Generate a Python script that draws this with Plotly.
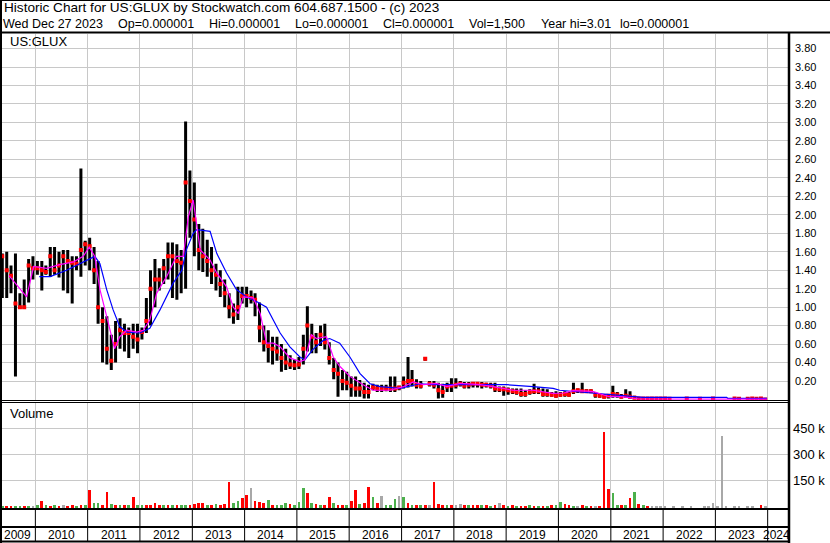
import plotly.graph_objects as go

W, H = 830, 543

# ---------------- data ----------------
# monthly bars from 2009-05 to 2023-12
months = [f"{y}-{m:02d}-15" for y in range(2009, 2024) for m in range(1, 13) if (y, m) >= (2009, 5)]

high = [
    # 2009 May-Dec
    1.58, 1.60, 1.45, 1.58, 1.15, 1.30, 1.52, 1.55,
    # 2010
    1.50, 1.50, 1.45, 1.65, 1.65, 1.60, 1.62, 1.62, 1.55, 1.55, 2.50, 1.72,
    # 2011
    1.75, 1.65, 1.50, 1.00, 0.90, 0.70, 0.85, 0.88, 0.82, 0.78, 0.82, 0.82,
    # 2012
    0.78, 1.10, 1.40, 1.52, 1.42, 1.52, 1.70, 1.70, 1.68, 1.62, 3.01, 2.48,
    # 2013
    2.35, 1.90, 1.85, 1.73, 1.65, 1.47, 1.40, 1.30, 1.15, 1.04, 1.22, 1.22,
    # 2014
    1.22, 1.18, 1.15, 1.05, 0.80, 0.75, 0.68, 0.68, 0.60, 0.55, 0.48, 0.43,
    # 2015
    0.46, 0.70, 1.01, 0.82, 0.72, 0.80, 0.82, 0.62, 0.45, 0.40, 0.32, 0.30,
    # 2016
    0.25, 0.25, 0.21, 0.18, 0.16, 0.17, 0.16, 0.16, 0.16, 0.25, 0.25, 0.15,
    # 2017
    0.25, 0.46, 0.32, 0.22, 0.20, 0.46, 0.20, 0.20, 0.18, 0.17, 0.18, 0.23,
    # 2018
    0.23, 0.20, 0.19, 0.19, 0.19, 0.19, 0.19, 0.18, 0.18, 0.18, 0.14, 0.14,
    # 2019
    0.13, 0.12, 0.12, 0.12, 0.10, 0.11, 0.17, 0.13, 0.12, 0.11, 0.08, 0.09,
    # 2020
    0.08, 0.09, 0.08, 0.18, 0.12, 0.18, 0.11, 0.11, 0.08, 0.07, 0.06, 0.06,
    # 2021
    0.15, 0.08, 0.06, 0.11, 0.09, 0.04, 0.02, 0.02, 0.015, 0.015, 0.015, 0.015,
    # 2022
    0.015, 0.012, None, None, None, 0.015, None, None, 0.012, None, None, 0.02,
    # 2023
    None, None, None, None, 0.015, 0.012, None, 0.012, 0.015, 0.012, 0.015, 0.012,
]
low = [
    1.10, 1.10, 1.15, 0.25, 0.98, 0.98, 1.05, 1.30,
    1.35, 1.18, 1.35, 1.33, 1.35, 1.32, 1.18, 1.15, 1.04, 1.40, 1.33, 1.45,
    1.40, 1.25, 0.82, 0.40, 0.38, 0.32, 0.40, 0.55, 0.52, 0.45, 0.55, 0.50,
    0.65, 0.72, 0.80, 1.00, 1.18, 1.25, 1.30, 1.10, 1.08, 1.15, 1.20, 1.75,
    1.55, 1.40, 1.38, 1.33, 1.25, 1.18, 1.11, 1.00, 0.88, 0.82, 0.86, 1.04,
    1.00, 1.04, 0.90, 0.62, 0.52, 0.40, 0.38, 0.42, 0.30, 0.32, 0.33, 0.32,
    0.33, 0.38, 0.52, 0.50, 0.50, 0.58, 0.54, 0.38, 0.22, 0.03, 0.10, 0.10,
    0.03, 0.03, 0.03, 0.01, 0.01, 0.10, 0.08, 0.08, 0.09, 0.08, 0.08, 0.10,
    0.12, 0.13, 0.14, 0.12, 0.12, 0.42, 0.14, 0.12, 0.01, 0.02, 0.08, 0.08,
    0.12, 0.14, 0.12, 0.12, 0.13, 0.13, 0.12, 0.13, 0.12, 0.08, 0.08, 0.04,
    0.05, 0.06, 0.05, 0.03, 0.03, 0.05, 0.06, 0.06, 0.03, 0.03, 0.03, 0.02,
    0.03, 0.03, 0.03, 0.06, 0.07, 0.07, 0.07, 0.07, 0.02, 0.02, 0.01, 0.01,
    0.02, 0.02, 0.01, 0.02, 0.01, 0.005, 0.005, 0.005, 0.005, 0.005, 0.005, 0.005,
    0.005, 0.005, None, None, None, 0.005, None, None, 0.005, None, None, 0.005,
    None, None, None, None, 0.005, 0.005, None, 0.005, 0.005, 0.005, 0.005, 0.000001,
]
close = [
    1.55, 1.40, 1.34, 1.04, 1.00, 1.00, 1.45, 1.42,
    1.42, 1.40, 1.38, 1.55, 1.40, 1.45, 1.55, 1.50, 1.48, 1.47, 1.62, 1.68,
    1.66, 1.40, 1.00, 0.85, 0.55, 0.42, 0.60, 0.75, 0.72, 0.72, 0.68, 0.65,
    0.73, 0.85, 1.20, 1.30, 1.30, 1.42, 1.55, 1.55, 1.50, 1.48, 2.35, 2.15,
    1.95, 1.62, 1.55, 1.50, 1.40, 1.35, 1.25, 1.15, 1.00, 0.92, 1.00, 1.12,
    1.12, 1.10, 1.08, 0.78, 0.62, 0.58, 0.55, 0.52, 0.45, 0.40, 0.38, 0.37,
    0.38, 0.55, 0.80, 0.68, 0.62, 0.70, 0.62, 0.45, 0.32, 0.28, 0.20, 0.18,
    0.15, 0.12, 0.12, 0.08, 0.08, 0.13, 0.12, 0.12, 0.12, 0.12, 0.12, 0.13,
    0.18, 0.20, 0.20, 0.16, 0.15, 0.44, 0.17, 0.16, 0.10, 0.08, 0.14, 0.15,
    0.16, 0.17, 0.15, 0.16, 0.17, 0.17, 0.16, 0.16, 0.15, 0.12, 0.11, 0.11,
    0.10, 0.09, 0.08, 0.06, 0.06, 0.08, 0.09, 0.09, 0.06, 0.06, 0.05, 0.04,
    0.05, 0.06, 0.05, 0.09, 0.10, 0.09, 0.09, 0.09, 0.05, 0.04, 0.03, 0.04,
    0.06, 0.05, 0.03, 0.04, 0.03, 0.02, 0.01, 0.01, 0.01, 0.01, 0.01, 0.01,
    0.01, 0.008, None, None, None, 0.01, None, None, 0.008, None, None, 0.012,
    None, None, None, None, 0.01, 0.008, None, 0.008, 0.01, 0.008, 0.01, 0.000001,
]

# moving averages
ma_short_dates = [
    "2009-07-01", "2009-11-01", "2009-12-20", "2010-03-20", "2010-06-20", "2010-09-25",
    "2010-12-01", "2011-01-12", "2011-02-20", "2011-03-28", "2011-05-14", "2011-07-08",
    "2011-08-13", "2011-10-01", "2011-12-10", "2012-01-24", "2012-03-10", "2012-04-27",
    "2012-07-05", "2012-09-12", "2012-10-30", "2012-12-04", "2013-01-07", "2013-02-01",
    "2013-02-25", "2013-05-05", "2013-06-21", "2013-08-28", "2013-10-14", "2013-11-18",
    "2013-12-22", "2014-03-03", "2014-04-20", "2014-06-03", "2014-07-20", "2014-09-06",
    "2014-11-13", "2015-01-22", "2015-02-26", "2015-04-12", "2015-05-18", "2015-07-26",
    "2015-09-12", "2015-10-27", "2016-01-06", "2016-04-08", "2016-06-16", "2016-10-12",
    "2017-01-14", "2017-03-25", "2017-06-02", "2017-09-02", "2017-11-12", "2018-02-14",
    "2018-07-01", "2018-10-03", "2019-02-20", "2019-07-08", "2019-11-25", "2020-02-10",
    "2020-04-14", "2020-07-15", "2020-09-02", "2020-12-20", "2021-03-15", "2021-07-15",
    "2023-12-27",
]
ma_short = [
    1.34, 1.11, 1.44, 1.42, 1.46, 1.49,
    1.55, 1.65, 1.55, 1.19, 0.90, 0.55,
    0.68, 0.75, 0.73, 0.75, 0.86, 1.15,
    1.33, 1.55, 1.55, 1.98, 2.16, 1.91,
    1.62, 1.51, 1.37, 1.22, 1.00, 0.93,
    1.11, 1.10, 0.93, 0.61, 0.61, 0.57,
    0.45, 0.41, 0.43, 0.70, 0.66, 0.68,
    0.46, 0.36, 0.25, 0.16, 0.10, 0.10,
    0.14, 0.19, 0.16, 0.175, 0.14, 0.175,
    0.16, 0.14, 0.10, 0.10, 0.067, 0.07,
    0.095, 0.09, 0.085, 0.03, 0.03, 0.005,
    0.003,
]
ma_long_dates = [
    "2010-01-28", "2010-04-15", "2010-08-07", "2010-12-01", "2011-02-20", "2011-03-28",
    "2011-05-14", "2011-06-28", "2011-08-13", "2011-10-01", "2012-01-01", "2012-03-10",
    "2012-05-20", "2012-08-20", "2012-10-20", "2012-11-20", "2013-01-07", "2013-02-01",
    "2013-05-05", "2013-06-21", "2013-08-28", "2013-11-05", "2014-01-15", "2014-03-25",
    "2014-06-03", "2014-07-20", "2014-09-06", "2014-11-13", "2015-01-22", "2015-02-26",
    "2015-04-22", "2015-07-05", "2015-08-18", "2015-10-27", "2016-01-06", "2016-03-17",
    "2016-05-26", "2016-08-04", "2016-12-20", "2017-05-08", "2017-08-11", "2017-12-28",
    "2018-07-01", "2019-01-04", "2019-07-08", "2019-11-25", "2020-01-10", "2020-05-01",
    "2020-09-02", "2021-01-01", "2021-04-23", "2021-08-14", "2023-03-21", "2023-03-27",
    "2023-12-27",
]
ma_long = [
    1.33, 1.33, 1.40, 1.49, 1.55, 1.47,
    1.19, 0.97, 0.79, 0.73, 0.72, 0.77,
    0.97, 1.26, 1.40, 1.62, 1.80, 1.84,
    1.82, 1.58, 1.37, 1.19, 1.11, 1.06,
    1.00, 0.86, 0.72, 0.57, 0.46, 0.43,
    0.54, 0.64, 0.66, 0.61, 0.46, 0.28,
    0.17, 0.14, 0.12, 0.17, 0.16, 0.16,
    0.16, 0.16, 0.14, 0.12, 0.10, 0.085,
    0.075, 0.06, 0.04, 0.023, 0.023, 0.013,
    0.013,
]

# volume (largest daily bar in each month) and bar colour: r=down, g=up, a=unchanged
volume = [
    2000, 3000, 4000, 3000, 3000, 3000, 4000, 3000,
    6000, 33000, 8000, 4000, 6000, 4000, 5000, 3000, 6000, 4000, 5000, 6000,
    94000, 17000, 18000, 10000, 83000, 12000, 6000, 8000, 5000, 5000, 53000, 10000,
    8000, 6000, 8000, 20000, 10000, 8000, 6000, 5000, 8000, 6000, 5000, 8000,
    12000, 18000, 20000, 10000, 8000, 15000, 10000, 12000, 141000, 20000, 30000, 50000,
    66000, 105000, 30000, 25000, 20000, 37000, 10000, 8000, 10000, 20000, 15000, 10000,
    25000, 105000, 76000, 20000, 12000, 10000, 8000, 53000, 20000, 10000, 8000, 10000,
    28000, 94000, 15000, 20000, 111000, 53000, 20000, 61000, 10000, 8000, 42000, 61000,
    53000, 20000, 10000, 8000, 6000, 5000, 8000, 140000, 15000, 10000, 8000, 6000,
    10000, 12000, 8000, 6000, 8000, 6000, 5000, 5000, 4000, 6000, 17000, 5000,
    4000, 5000, 3000, 4000, 3000, 5000, 4000, 3000, 4000, 3000, 5000, 8000,
    23000, 15000, 5000, 4000, 3000, 5000, 3000, 4000, 3000, 4000, 429000, 100000,
    77000, 5000, 8000, 6000, 48000, 82000, 14000, 5000, 3000, 2000, 2000, 2000,
    3000, None, 2000, None, 2000, None, 3000, None, None, 2000, 4000, 19000,
    2000, 406000, 4000, None, 3000, 2000, None, 2000, 3000, None, 5000, 1500,
]
vol_dir = list(
    "grrggrga"
    "grgrgrarrgrg"
    "rggrrgrgrgrg"
    "grrrrgrgrggr"
    "rrrgrgrrrggr"
    "rarrrgrgggrg"
    "ggrgrgrrgrrg"
    "rrgrrgraggga"
    "grgrgrarrrgr"
    "aargrrgrgrar"
    "grgrrgrgrgrg"
    "grrgargrarrr"
    "ggrgrgrgraaa"
    "aaaaaaaaaaaa"
    "aaaaaaaaaara"
)

price_ticks = [0.2, 0.4, 0.6, 0.8, 1.0, 1.2, 1.4, 1.6, 1.8, 2.0, 2.2, 2.4, 2.6, 2.8, 3.0, 3.2, 3.4, 3.6, 3.8]
vol_ticks = [150000, 300000, 450000]
vol_tick_text = ["150 k", "300 k", "450 k"]
years = list(range(2009, 2025))
header1 = "Historic Chart for US:GLUX by Stockwatch.com 604.687.1500 - (c) 2023"
header2 = ["Wed Dec 27 2023", "Op=0.000001", "Hi=0.000001", "Lo=0.000001",
           "Cl=0.000001", "Vol=1,500", "Year hi=3.01", "lo=0.000001"]
symbol = "US:GLUX"

# ---------------- layout helpers (pixels -> paper) ----------------
def px(x):
    return x / W

def py(y):
    return 1 - y / H

FONT = "Liberation Sans, Arial, sans-serif"
GRID = "#c8c8c8"
colour_map = {"r": "#ff0000", "g": "#4cb04c", "a": "#a8a8a8"}

fig = go.Figure()

# high-low bars
bx, by = [], []
for d, lo, hi in zip(months, low, high):
    bx += [d, d, None]
    by += [lo, hi, None]
fig.add_trace(go.Scatter(x=bx, y=by, mode="lines", line=dict(color="black", width=3),
                         connectgaps=False, hoverinfo="skip", xaxis="x", yaxis="y"))
# close marks
fig.add_trace(go.Scatter(x=months, y=close, mode="markers",
                         marker=dict(symbol="square", size=4, color="#ff0000", line=dict(width=0)),
                         xaxis="x", yaxis="y"))
# moving averages
fig.add_trace(go.Scatter(x=ma_long_dates, y=ma_long, mode="lines",
                         line=dict(color="#0000ff", width=1.2), xaxis="x", yaxis="y"))
fig.add_trace(go.Scatter(x=ma_short_dates, y=ma_short, mode="lines",
                         line=dict(color="#ff00ff", width=1.2), xaxis="x", yaxis="y"))

# volume bars (drawn up from the panel's bottom edge)
VBASE = -12000
fig.add_trace(go.Bar(
    x=months,
    y=[None if v is None else v - VBASE for v in volume],
    base=VBASE,
    width=1.6e9,
    marker=dict(color=[colour_map[c] for c in vol_dir], line=dict(width=0)),
    xaxis="x2", yaxis="y2"))

x_range = ["2009-05-13", "2024-05-29"]
xdom = [px(2), px(789)]
common_x = dict(type="date", domain=xdom, showgrid=True, gridcolor=GRID,
                gridwidth=1, tick0="2010-01-01", dtick="M12", showticklabels=False,
                ticks="", zeroline=False, showline=False, fixedrange=True)

fig.update_layout(
    width=W, height=H,
    margin=dict(l=0, r=0, t=0, b=0, pad=0),
    paper_bgcolor="white", plot_bgcolor="white",
    showlegend=False,
    bargap=0,
    xaxis=dict(anchor="y", range=x_range, **common_x),
    xaxis2=dict(anchor="y2", matches="x", **common_x),
    yaxis=dict(domain=[py(400.5), py(33.5)], range=[-0.011, 3.963], side="right",
               tickvals=price_ticks, ticktext=[f"{v:.2f}" for v in price_ticks],
               tickfont=dict(family=FONT, size=11, color="black"),
               showgrid=True, gridcolor=GRID, gridwidth=1, zeroline=False, ticks="",
               ticklabelstandoff=5, anchor="x"),
    yaxis2=dict(domain=[py(509), py(403)], range=[-15600, 596000], side="right",
                tickvals=vol_ticks, ticktext=vol_tick_text,
                tickfont=dict(family=FONT, size=13, color="black"),
                showgrid=True, gridcolor=GRID, gridwidth=1, zeroline=False, ticks="",
                ticklabelstandoff=3, anchor="x2"),
)

shapes = []
def hline(y, x0, x1, w):
    shapes.append(dict(type="line", xref="paper", yref="paper", x0=px(x0), x1=px(x1),
                       y0=py(y), y1=py(y), line=dict(color="black", width=w)))
def vline(x, y0, y1, w):
    shapes.append(dict(type="line", xref="paper", yref="paper", x0=px(x), x1=px(x),
                       y0=py(y0), y1=py(y1), line=dict(color="black", width=w)))

hline(0.5, 0, 830, 1)        # top border
hline(32.5, 0, 830, 2)       # header separator
hline(400.5, 0, 789, 1)      # price / volume double line
hline(402.5, 0, 789, 1)
hline(509, 0, 789, 2)        # volume bottom
hline(527, 0, 789, 2)        # x-axis band separator
hline(541.5, 0, 789, 2)      # bottom border
vline(1, 0, 543, 2)          # left border
vline(789, 32, 543, 2.5)     # right axis line
# year separators in the axis band
for yr in years[1:]:
    shapes.append(dict(type="line", xref="x", yref="paper", x0=f"{yr}-01-01", x1=f"{yr}-01-01",
                       y0=py(509), y1=py(541.5), line=dict(color="black", width=1)))
fig.update_layout(shapes=shapes)

ann = []
ann.append(dict(text=header1, xref="paper", yref="paper", x=px(3), y=py(8),
                xanchor="left", yanchor="middle", showarrow=False, borderpad=0,
                font=dict(family=FONT, size=13.6, color="black")))
h2_x = [2, 117, 208, 294, 382, 468, 540, 619]
for t, x in zip(header2, h2_x):
    ann.append(dict(text=t, xref="paper", yref="paper", x=px(x), y=py(23.5),
                    xanchor="left", yanchor="middle", showarrow=False, borderpad=0,
                    font=dict(family=FONT, size=12.5, color="black")))
ann.append(dict(text=symbol, xref="paper", yref="paper", x=px(9), y=py(41.5),
                xanchor="left", yanchor="middle", showarrow=False, borderpad=0,
                font=dict(family=FONT, size=13, color="black")))
ann.append(dict(text="Volume", xref="paper", yref="paper", x=px(9), y=py(413.5),
                xanchor="left", yanchor="middle", showarrow=False, borderpad=0,
                font=dict(family=FONT, size=13, color="black")))
for yr in years:
    if yr == years[0]:
        ax = dict(xref="paper", x=px(17))
    elif yr == years[-1]:
        ax = dict(xref="paper", x=px(776.5))
    else:
        ax = dict(xref="x", x=f"{yr}-07-02")
    ann.append(dict(text=str(yr), yref="paper", y=py(535), xanchor="center", yanchor="middle",
                    showarrow=False, borderpad=0,
                    font=dict(family=FONT, size=12, color="black"), **ax))
fig.update_layout(annotations=ann)

fig.write_html("out.html", config={"displayModeBar": False},
               post_script="document.body.style.margin='0px';document.body.style.overflow='hidden';")
